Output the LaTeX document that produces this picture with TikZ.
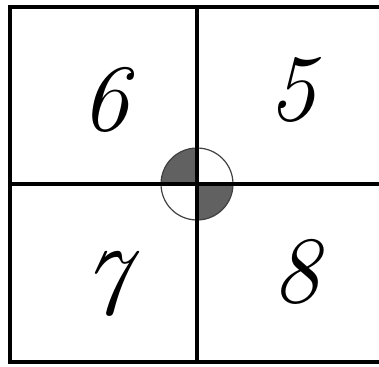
\documentclass[tikz,border=0pt]{standalone}
\usepackage{fontspec}
\begin{document}
\begin{tikzpicture}[x=1pt, y=-1pt,
    frame/.style={line width=3.5pt, line cap=rect},
    digit/.style={font=\fontsize{95}{95}\selectfont\itshape, inner sep=0pt},
    shade/.style={fill=black!62},
    ring/.style={draw=black!75, line width=1.2pt}
]
\useasboundingbox (0,0) rectangle (379,366);

% Puntos del marco
\coordinate (TL) at (10,7);
\coordinate (BL) at (10,362);
\coordinate (TR) at (380,7);
\coordinate (BR) at (380,362);
\coordinate (O) at (197,184);
\coordinate (Ltop) at (197,7);
\coordinate (Lbot) at (197,362);
\coordinate (Lleft) at (10,184);
\coordinate (Lright) at (380,184);

% Cuartos sombreados y circulo
\fill[shade] (O) -- ++(-36,0) arc[start angle=180, end angle=270, radius=36] -- cycle;
\fill[shade] (O) -- ++(36,0) arc[start angle=0, end angle=90, radius=36] -- cycle;
\draw[ring] (O) circle[radius=36];

% Marco y divisiones
\draw[frame] (TR) -- (TL) -- (BL) -- (BR);
\draw[frame] (Ltop) -- (Lbot);
\draw[frame] (Lleft) -- (Lright);

% Numeros
\node[digit] (n6) at (105,100) {6};
\node[digit] (n5) at (292,90) {5};
\node[digit] (n7) at (105,284) {7};
\node[digit] (n8) at (296,272) {8};

\end{tikzpicture}
\end{document}
